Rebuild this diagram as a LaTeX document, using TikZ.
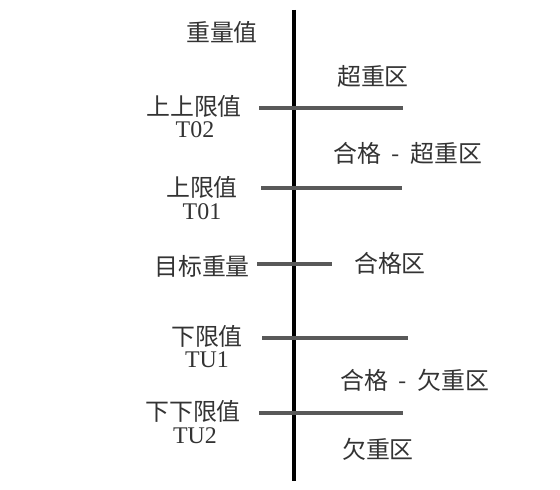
\documentclass[tikz,border=0pt]{standalone}
\usepackage{fontspec}
\setmainfont{Liberation Serif}
\newfontfamily\cjk{Noto Sans CJK SC}
\tikzset{
  axis/.style={line width=3.5pt, black},
  tick/.style={line width=2.6pt, black!65},
  zone/.style={font=\cjk\fontsize{17}{17}\selectfont, text=black!80, inner sep=0pt},
  code/.style={font=\fontsize{17}{17}\selectfont, text=black!80, inner sep=0pt}
}
\newcommand{\gap}{\hspace{0.45em}-\hspace{0.45em}}

\begin{document}
\begin{tikzpicture}[x=0.025cm, y=-0.025cm]
  \useasboundingbox (0,0) rectangle (560,490);
  % axis
  \coordinate (top) at (294,10);
  \coordinate (bot) at (294,481);
  \draw[axis] (top) -- (bot);
  % ticks
  \coordinate (t02l) at (259,108); \coordinate (t02r) at (403,108);
  \coordinate (t01l) at (261,188); \coordinate (t01r) at (402,188);
  \coordinate (tgtl) at (257,264); \coordinate (tgtr) at (332,264);
  \coordinate (tu1l) at (262,338); \coordinate (tu1r) at (408,338);
  \coordinate (tu2l) at (259,413); \coordinate (tu2r) at (403,413);
  \draw[tick] (t02l) -- (t02r);
  \draw[tick] (t01l) -- (t01r);
  \draw[tick] (tgtl) -- (tgtr);
  \draw[tick] (tu1l) -- (tu1r);
  \draw[tick] (tu2l) -- (tu2r);
  % left labels
  \node[zone] (W)    at (222,32)  {重量值};
  \node[zone] (T02a) at (194,106) {上上限值};
  \node[zone] (T01a) at (202,187) {上限值};
  \node[zone] (TGT)  at (202,266) {目标重量};
  \node[zone] (TU1a) at (207,336) {下限值};
  \node[zone] (TU2a) at (193,411) {下下限值};
  \node[code] (T02b) at (195,130) {T02};
  \node[code] (T01b) at (202,212) {T01};
  \node[code] (TU1b) at (207,360) {TU1};
  \node[code] (TU2b) at (195,436) {TU2};
  % right labels
  \node[zone] (Z1) at (373,76)  {超重区};
  \node[zone] (Z2) at (408,153) {合格\gap 超重区};
  \node[zone] (Z3) at (390,263) {合格区};
  \node[zone] (Z4) at (415,380) {合格\gap 欠重区};
  \node[zone] (Z5) at (378,449) {欠重区};
\end{tikzpicture}
\end{document}
